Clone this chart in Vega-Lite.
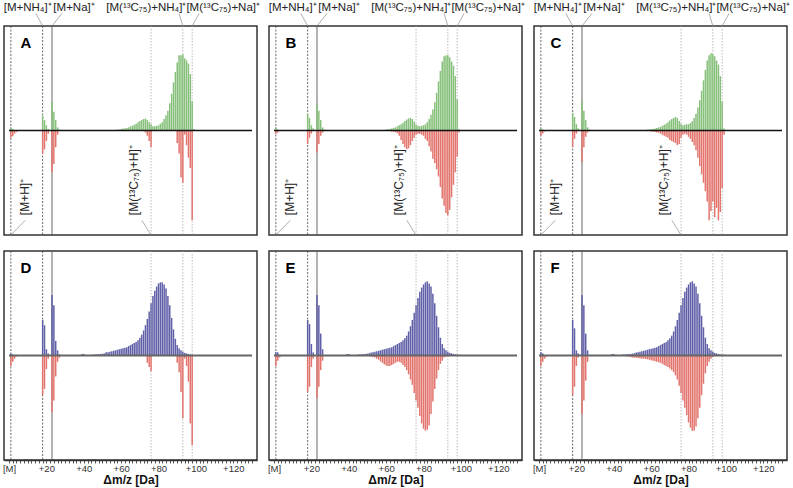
{
"$schema": "https://vega.github.io/schema/vega-lite/v6.json",
"padding": {"left": 1, "top": 0, "right": 0, "bottom": 0},
"background": "white",
"spacing": 12,
"config": {"view": {"stroke": "#333", "strokeWidth": 1.5}, "font": "Liberation Sans"},
"datasets": {
"vdash": [{"x":1},{"x":18}],
"vsolid": [{"x":23}],
"vlight": [{"x":76},{"x":93},{"x":98}],
"toplab": [{"x":10,"y":1.177,"t":"[M+NH₄]⁺"},{"x":34.8,"y":1.177,"t":"[M+Na]⁺"},{"x":73.5,"y":1.177,"t":"[M(¹³C₇₅)+NH₄]⁺"},{"x":114.6,"y":1.177,"t":"[M(¹³C₇₅)+Na]⁺"}],
"lead": [{"x":14.4,"y":1.12,"x2":18,"y2":1},{"x":28.3,"y":1.12,"x2":23,"y2":1},{"x":91,"y":1.12,"x2":93,"y2":1},{"x":101.7,"y":1.12,"x2":98,"y2":1},{"x":8.7,"y":-0.86,"x2":1,"y2":-1},{"x":71.1,"y":-0.86,"x2":76,"y2":-1}],
"rotlab": [{"x":8.7,"y":-0.81,"t":"[M+H]⁺"},{"x":66.8,"y":-0.81,"t":"[M(¹³C₇₅)+H]⁺"}],
"bars": [
{"p":"A","c":"g","x":1,"v":0.03},{"p":"A","c":"g","x":2,"v":0.015},{"p":"A","c":"g","x":18,"v":0.14},{"p":"A","c":"g","x":19,"v":0.10},{"p":"A","c":"g","x":20,"v":0.05},{"p":"A","c":"g","x":21,"v":0.015},{"p":"A","c":"g","x":23,"v":0.27},{"p":"A","c":"g","x":24,"v":0.18},{"p":"A","c":"g","x":25,"v":0.10},{"p":"A","c":"g","x":26,"v":0.03},{"p":"A","c":"g","x":27,"v":0.01},
{"p":"A","c":"g","x":58,"v":0.01},{"p":"A","c":"g","x":59,"v":0.01},{"p":"A","c":"g","x":60,"v":0.015},{"p":"A","c":"g","x":61,"v":0.02},{"p":"A","c":"g","x":62,"v":0.02},{"p":"A","c":"g","x":63,"v":0.025},{"p":"A","c":"g","x":64,"v":0.03},{"p":"A","c":"g","x":65,"v":0.04},{"p":"A","c":"g","x":66,"v":0.045},{"p":"A","c":"g","x":67,"v":0.055},{"p":"A","c":"g","x":68,"v":0.065},{"p":"A","c":"g","x":69,"v":0.08},{"p":"A","c":"g","x":70,"v":0.09},{"p":"A","c":"g","x":71,"v":0.10},{"p":"A","c":"g","x":72,"v":0.11},{"p":"A","c":"g","x":73,"v":0.115},{"p":"A","c":"g","x":74,"v":0.10},{"p":"A","c":"g","x":75,"v":0.08},{"p":"A","c":"g","x":76,"v":0.06},{"p":"A","c":"g","x":77,"v":0.04},{"p":"A","c":"g","x":78,"v":0.04},{"p":"A","c":"g","x":79,"v":0.045},{"p":"A","c":"g","x":80,"v":0.05},{"p":"A","c":"g","x":81,"v":0.065},{"p":"A","c":"g","x":82,"v":0.08},{"p":"A","c":"g","x":83,"v":0.11},{"p":"A","c":"g","x":84,"v":0.145},{"p":"A","c":"g","x":85,"v":0.19},{"p":"A","c":"g","x":86,"v":0.26},{"p":"A","c":"g","x":87,"v":0.35},{"p":"A","c":"g","x":88,"v":0.46},{"p":"A","c":"g","x":89,"v":0.56},{"p":"A","c":"g","x":90,"v":0.65},{"p":"A","c":"g","x":91,"v":0.72},{"p":"A","c":"g","x":92,"v":0.72},{"p":"A","c":"g","x":93,"v":0.73},{"p":"A","c":"g","x":94,"v":0.69},{"p":"A","c":"g","x":95,"v":0.67},{"p":"A","c":"g","x":96,"v":0.64},{"p":"A","c":"g","x":97,"v":0.54},{"p":"A","c":"g","x":98,"v":0.28},{"p":"A","c":"g","x":99,"v":0.015},{"p":"A","c":"g","x":100,"v":0.005},
{"p":"A","c":"r","x":1,"v":-0.07},{"p":"A","c":"r","x":2,"v":-0.055},{"p":"A","c":"r","x":3,"v":-0.03},{"p":"A","c":"r","x":4,"v":-0.015},{"p":"A","c":"r","x":18,"v":-0.22},{"p":"A","c":"r","x":19,"v":-0.18},{"p":"A","c":"r","x":20,"v":-0.10},{"p":"A","c":"r","x":21,"v":-0.03},{"p":"A","c":"r","x":23,"v":-0.40},{"p":"A","c":"r","x":24,"v":-0.32},{"p":"A","c":"r","x":25,"v":-0.16},{"p":"A","c":"r","x":26,"v":-0.04},{"p":"A","c":"r","x":73,"v":-0.02},{"p":"A","c":"r","x":74,"v":-0.05},{"p":"A","c":"r","x":75,"v":-0.10},{"p":"A","c":"r","x":76,"v":-0.16},{"p":"A","c":"r","x":90,"v":-0.12},{"p":"A","c":"r","x":91,"v":-0.22},{"p":"A","c":"r","x":92,"v":-0.45},{"p":"A","c":"r","x":93,"v":-0.50},{"p":"A","c":"r","x":94,"v":-0.04},{"p":"A","c":"r","x":95,"v":-0.14},{"p":"A","c":"r","x":96,"v":-0.26},{"p":"A","c":"r","x":97,"v":-0.36},{"p":"A","c":"r","x":98,"v":-0.86},
{"p":"B","c":"g","x":1,"v":0.03},{"p":"B","c":"g","x":2,"v":0.01},{"p":"B","c":"g","x":18,"v":0.16},{"p":"B","c":"g","x":19,"v":0.12},{"p":"B","c":"g","x":20,"v":0.05},{"p":"B","c":"g","x":21,"v":0.02},{"p":"B","c":"g","x":23,"v":0.26},{"p":"B","c":"g","x":24,"v":0.19},{"p":"B","c":"g","x":25,"v":0.10},{"p":"B","c":"g","x":26,"v":0.03},{"p":"B","c":"g","x":27,"v":0.01},
{"p":"B","c":"g","x":60,"v":0.01},{"p":"B","c":"g","x":61,"v":0.012},{"p":"B","c":"g","x":62,"v":0.015},{"p":"B","c":"g","x":63,"v":0.02},{"p":"B","c":"g","x":64,"v":0.025},{"p":"B","c":"g","x":65,"v":0.03},{"p":"B","c":"g","x":66,"v":0.04},{"p":"B","c":"g","x":67,"v":0.05},{"p":"B","c":"g","x":68,"v":0.06},{"p":"B","c":"g","x":69,"v":0.075},{"p":"B","c":"g","x":70,"v":0.09},{"p":"B","c":"g","x":71,"v":0.105},{"p":"B","c":"g","x":72,"v":0.115},{"p":"B","c":"g","x":73,"v":0.12},{"p":"B","c":"g","x":74,"v":0.11},{"p":"B","c":"g","x":75,"v":0.085},{"p":"B","c":"g","x":76,"v":0.06},{"p":"B","c":"g","x":77,"v":0.045},{"p":"B","c":"g","x":78,"v":0.04},{"p":"B","c":"g","x":79,"v":0.045},{"p":"B","c":"g","x":80,"v":0.05},{"p":"B","c":"g","x":81,"v":0.06},{"p":"B","c":"g","x":82,"v":0.08},{"p":"B","c":"g","x":83,"v":0.11},{"p":"B","c":"g","x":84,"v":0.15},{"p":"B","c":"g","x":85,"v":0.20},{"p":"B","c":"g","x":86,"v":0.27},{"p":"B","c":"g","x":87,"v":0.36},{"p":"B","c":"g","x":88,"v":0.47},{"p":"B","c":"g","x":89,"v":0.57},{"p":"B","c":"g","x":90,"v":0.66},{"p":"B","c":"g","x":91,"v":0.71},{"p":"B","c":"g","x":92,"v":0.72},{"p":"B","c":"g","x":93,"v":0.72},{"p":"B","c":"g","x":94,"v":0.70},{"p":"B","c":"g","x":95,"v":0.66},{"p":"B","c":"g","x":96,"v":0.62},{"p":"B","c":"g","x":97,"v":0.52},{"p":"B","c":"g","x":98,"v":0.30},{"p":"B","c":"g","x":99,"v":0.015},{"p":"B","c":"g","x":100,"v":0.005},
{"p":"B","c":"r","x":1,"v":-0.03},{"p":"B","c":"r","x":2,"v":-0.02},{"p":"B","c":"r","x":18,"v":-0.13},{"p":"B","c":"r","x":19,"v":-0.07},{"p":"B","c":"r","x":20,"v":-0.03},{"p":"B","c":"r","x":23,"v":-0.21},{"p":"B","c":"r","x":24,"v":-0.13},{"p":"B","c":"r","x":25,"v":-0.05},{"p":"B","c":"r","x":26,"v":-0.02},
{"p":"B","c":"r","x":62,"v":-0.005},{"p":"B","c":"r","x":63,"v":-0.01},{"p":"B","c":"r","x":64,"v":-0.012},{"p":"B","c":"r","x":65,"v":-0.015},{"p":"B","c":"r","x":66,"v":-0.025},{"p":"B","c":"r","x":67,"v":-0.05},{"p":"B","c":"r","x":68,"v":-0.09},{"p":"B","c":"r","x":69,"v":-0.13},{"p":"B","c":"r","x":70,"v":-0.16},{"p":"B","c":"r","x":71,"v":-0.18},{"p":"B","c":"r","x":72,"v":-0.17},{"p":"B","c":"r","x":73,"v":-0.14},{"p":"B","c":"r","x":74,"v":-0.10},{"p":"B","c":"r","x":75,"v":-0.07},{"p":"B","c":"r","x":76,"v":-0.04},{"p":"B","c":"r","x":77,"v":-0.03},{"p":"B","c":"r","x":78,"v":-0.03},{"p":"B","c":"r","x":79,"v":-0.04},{"p":"B","c":"r","x":80,"v":-0.05},{"p":"B","c":"r","x":81,"v":-0.08},{"p":"B","c":"r","x":82,"v":-0.10},{"p":"B","c":"r","x":83,"v":-0.15},{"p":"B","c":"r","x":84,"v":-0.20},{"p":"B","c":"r","x":85,"v":-0.27},{"p":"B","c":"r","x":86,"v":-0.31},{"p":"B","c":"r","x":87,"v":-0.37},{"p":"B","c":"r","x":88,"v":-0.44},{"p":"B","c":"r","x":89,"v":-0.54},{"p":"B","c":"r","x":90,"v":-0.65},{"p":"B","c":"r","x":91,"v":-0.72},{"p":"B","c":"r","x":92,"v":-0.79},{"p":"B","c":"r","x":93,"v":-0.81},{"p":"B","c":"r","x":94,"v":-0.76},{"p":"B","c":"r","x":95,"v":-0.64},{"p":"B","c":"r","x":96,"v":-0.52},{"p":"B","c":"r","x":97,"v":-0.40},{"p":"B","c":"r","x":98,"v":-0.25},{"p":"B","c":"r","x":99,"v":-0.02},
{"p":"C","c":"g","x":1,"v":0.03},{"p":"C","c":"g","x":2,"v":0.01},{"p":"C","c":"g","x":18,"v":0.17},{"p":"C","c":"g","x":19,"v":0.13},{"p":"C","c":"g","x":20,"v":0.06},{"p":"C","c":"g","x":21,"v":0.02},{"p":"C","c":"g","x":23,"v":0.29},{"p":"C","c":"g","x":24,"v":0.19},{"p":"C","c":"g","x":25,"v":0.10},{"p":"C","c":"g","x":26,"v":0.03},{"p":"C","c":"g","x":27,"v":0.01},
{"p":"C","c":"g","x":58,"v":0.008},{"p":"C","c":"g","x":59,"v":0.01},{"p":"C","c":"g","x":60,"v":0.012},{"p":"C","c":"g","x":61,"v":0.015},{"p":"C","c":"g","x":62,"v":0.02},{"p":"C","c":"g","x":63,"v":0.025},{"p":"C","c":"g","x":64,"v":0.03},{"p":"C","c":"g","x":65,"v":0.035},{"p":"C","c":"g","x":66,"v":0.045},{"p":"C","c":"g","x":67,"v":0.055},{"p":"C","c":"g","x":68,"v":0.065},{"p":"C","c":"g","x":69,"v":0.08},{"p":"C","c":"g","x":70,"v":0.095},{"p":"C","c":"g","x":71,"v":0.11},{"p":"C","c":"g","x":72,"v":0.12},{"p":"C","c":"g","x":73,"v":0.13},{"p":"C","c":"g","x":74,"v":0.12},{"p":"C","c":"g","x":75,"v":0.09},{"p":"C","c":"g","x":76,"v":0.065},{"p":"C","c":"g","x":77,"v":0.05},{"p":"C","c":"g","x":78,"v":0.055},{"p":"C","c":"g","x":79,"v":0.06},{"p":"C","c":"g","x":80,"v":0.06},{"p":"C","c":"g","x":81,"v":0.07},{"p":"C","c":"g","x":82,"v":0.09},{"p":"C","c":"g","x":83,"v":0.12},{"p":"C","c":"g","x":84,"v":0.16},{"p":"C","c":"g","x":85,"v":0.22},{"p":"C","c":"g","x":86,"v":0.29},{"p":"C","c":"g","x":87,"v":0.38},{"p":"C","c":"g","x":88,"v":0.48},{"p":"C","c":"g","x":89,"v":0.58},{"p":"C","c":"g","x":90,"v":0.67},{"p":"C","c":"g","x":91,"v":0.72},{"p":"C","c":"g","x":92,"v":0.74},{"p":"C","c":"g","x":93,"v":0.73},{"p":"C","c":"g","x":94,"v":0.71},{"p":"C","c":"g","x":95,"v":0.67},{"p":"C","c":"g","x":96,"v":0.63},{"p":"C","c":"g","x":97,"v":0.52},{"p":"C","c":"g","x":98,"v":0.28},{"p":"C","c":"g","x":99,"v":0.02},{"p":"C","c":"g","x":100,"v":0.005},
{"p":"C","c":"r","x":1,"v":-0.05},{"p":"C","c":"r","x":2,"v":-0.03},{"p":"C","c":"r","x":3,"v":-0.01},{"p":"C","c":"r","x":18,"v":-0.16},{"p":"C","c":"r","x":19,"v":-0.08},{"p":"C","c":"r","x":20,"v":-0.03},{"p":"C","c":"r","x":23,"v":-0.30},{"p":"C","c":"r","x":24,"v":-0.16},{"p":"C","c":"r","x":25,"v":-0.06},{"p":"C","c":"r","x":26,"v":-0.02},
{"p":"C","c":"r","x":60,"v":-0.01},{"p":"C","c":"r","x":61,"v":-0.01},{"p":"C","c":"r","x":62,"v":-0.015},{"p":"C","c":"r","x":63,"v":-0.02},{"p":"C","c":"r","x":64,"v":-0.02},{"p":"C","c":"r","x":65,"v":-0.03},{"p":"C","c":"r","x":66,"v":-0.04},{"p":"C","c":"r","x":67,"v":-0.05},{"p":"C","c":"r","x":68,"v":-0.06},{"p":"C","c":"r","x":69,"v":-0.07},{"p":"C","c":"r","x":70,"v":-0.09},{"p":"C","c":"r","x":71,"v":-0.10},{"p":"C","c":"r","x":72,"v":-0.11},{"p":"C","c":"r","x":73,"v":-0.12},{"p":"C","c":"r","x":74,"v":-0.14},{"p":"C","c":"r","x":75,"v":-0.13},{"p":"C","c":"r","x":76,"v":-0.07},{"p":"C","c":"r","x":77,"v":-0.04},{"p":"C","c":"r","x":78,"v":-0.03},{"p":"C","c":"r","x":79,"v":-0.04},{"p":"C","c":"r","x":80,"v":-0.06},{"p":"C","c":"r","x":81,"v":-0.08},{"p":"C","c":"r","x":82,"v":-0.11},{"p":"C","c":"r","x":83,"v":-0.14},{"p":"C","c":"r","x":84,"v":-0.19},{"p":"C","c":"r","x":85,"v":-0.26},{"p":"C","c":"r","x":86,"v":-0.34},{"p":"C","c":"r","x":87,"v":-0.42},{"p":"C","c":"r","x":88,"v":-0.50},{"p":"C","c":"r","x":89,"v":-0.58},{"p":"C","c":"r","x":90,"v":-0.68},{"p":"C","c":"r","x":91,"v":-0.86},{"p":"C","c":"r","x":92,"v":-0.77},{"p":"C","c":"r","x":93,"v":-0.68},{"p":"C","c":"r","x":94,"v":-0.83},{"p":"C","c":"r","x":95,"v":-0.74},{"p":"C","c":"r","x":96,"v":-0.86},{"p":"C","c":"r","x":97,"v":-0.78},{"p":"C","c":"r","x":98,"v":-0.55},{"p":"C","c":"r","x":99,"v":-0.04},
{"p":"D","c":"b","x":1,"v":0.02},{"p":"D","c":"b","x":2,"v":0.01},{"p":"D","c":"b","x":18,"v":0.34},{"p":"D","c":"b","x":19,"v":0.29},{"p":"D","c":"b","x":20,"v":0.06},{"p":"D","c":"b","x":21,"v":0.02},{"p":"D","c":"b","x":23,"v":0.58},{"p":"D","c":"b","x":24,"v":0.48},{"p":"D","c":"b","x":25,"v":0.14},{"p":"D","c":"b","x":26,"v":0.05},{"p":"D","c":"b","x":27,"v":0.01},{"p":"D","c":"b","x":39,"v":0.015},{"p":"D","c":"b","x":40,"v":0.015},
{"p":"D","c":"b","x":44,"v":0.005},{"p":"D","c":"b","x":45,"v":0.01},{"p":"D","c":"b","x":46,"v":0.01},{"p":"D","c":"b","x":47,"v":0.012},{"p":"D","c":"b","x":48,"v":0.012},{"p":"D","c":"b","x":49,"v":0.015},{"p":"D","c":"b","x":50,"v":0.017},{"p":"D","c":"b","x":51,"v":0.02},{"p":"D","c":"b","x":52,"v":0.03},{"p":"D","c":"b","x":53,"v":0.032},{"p":"D","c":"b","x":54,"v":0.035},{"p":"D","c":"b","x":55,"v":0.04},{"p":"D","c":"b","x":56,"v":0.045},{"p":"D","c":"b","x":57,"v":0.05},{"p":"D","c":"b","x":58,"v":0.055},{"p":"D","c":"b","x":59,"v":0.06},{"p":"D","c":"b","x":60,"v":0.065},{"p":"D","c":"b","x":61,"v":0.07},{"p":"D","c":"b","x":62,"v":0.075},{"p":"D","c":"b","x":63,"v":0.08},{"p":"D","c":"b","x":64,"v":0.09},{"p":"D","c":"b","x":65,"v":0.10},{"p":"D","c":"b","x":66,"v":0.11},{"p":"D","c":"b","x":67,"v":0.12},{"p":"D","c":"b","x":68,"v":0.13},{"p":"D","c":"b","x":69,"v":0.145},{"p":"D","c":"b","x":70,"v":0.17},{"p":"D","c":"b","x":71,"v":0.20},{"p":"D","c":"b","x":72,"v":0.24},{"p":"D","c":"b","x":73,"v":0.29},{"p":"D","c":"b","x":74,"v":0.35},{"p":"D","c":"b","x":75,"v":0.42},{"p":"D","c":"b","x":76,"v":0.50},{"p":"D","c":"b","x":77,"v":0.57},{"p":"D","c":"b","x":78,"v":0.62},{"p":"D","c":"b","x":79,"v":0.66},{"p":"D","c":"b","x":80,"v":0.69},{"p":"D","c":"b","x":81,"v":0.70},{"p":"D","c":"b","x":82,"v":0.70},{"p":"D","c":"b","x":83,"v":0.68},{"p":"D","c":"b","x":84,"v":0.64},{"p":"D","c":"b","x":85,"v":0.57},{"p":"D","c":"b","x":86,"v":0.48},{"p":"D","c":"b","x":87,"v":0.36},{"p":"D","c":"b","x":88,"v":0.25},{"p":"D","c":"b","x":89,"v":0.16},{"p":"D","c":"b","x":90,"v":0.10},{"p":"D","c":"b","x":91,"v":0.07},{"p":"D","c":"b","x":92,"v":0.05},{"p":"D","c":"b","x":93,"v":0.035},{"p":"D","c":"b","x":94,"v":0.025},{"p":"D","c":"b","x":95,"v":0.02},{"p":"D","c":"b","x":96,"v":0.015},{"p":"D","c":"b","x":97,"v":0.01},{"p":"D","c":"b","x":98,"v":0.008},{"p":"D","c":"b","x":99,"v":0.005},{"p":"D","c":"b","x":100,"v":0.004},{"p":"D","c":"b","x":101,"v":0.003},
{"p":"D","c":"r","x":1,"v":-0.10},{"p":"D","c":"r","x":2,"v":-0.06},{"p":"D","c":"r","x":3,"v":-0.03},{"p":"D","c":"r","x":4,"v":-0.01},{"p":"D","c":"r","x":18,"v":-0.38},{"p":"D","c":"r","x":19,"v":-0.32},{"p":"D","c":"r","x":20,"v":-0.13},{"p":"D","c":"r","x":21,"v":-0.03},{"p":"D","c":"r","x":23,"v":-0.54},{"p":"D","c":"r","x":24,"v":-0.43},{"p":"D","c":"r","x":25,"v":-0.20},{"p":"D","c":"r","x":26,"v":-0.06},{"p":"D","c":"r","x":27,"v":-0.02},{"p":"D","c":"r","x":74,"v":-0.07},{"p":"D","c":"r","x":75,"v":-0.11},{"p":"D","c":"r","x":76,"v":-0.15},{"p":"D","c":"r","x":90,"v":-0.07},{"p":"D","c":"r","x":91,"v":-0.16},{"p":"D","c":"r","x":92,"v":-0.35},{"p":"D","c":"r","x":93,"v":-0.60},{"p":"D","c":"r","x":94,"v":-0.03},{"p":"D","c":"r","x":95,"v":-0.10},{"p":"D","c":"r","x":96,"v":-0.25},{"p":"D","c":"r","x":97,"v":-0.65},{"p":"D","c":"r","x":98,"v":-0.86},
{"p":"E","c":"b","x":1,"v":0.03},{"p":"E","c":"b","x":2,"v":0.03},{"p":"E","c":"b","x":18,"v":0.34},{"p":"E","c":"b","x":19,"v":0.30},{"p":"E","c":"b","x":20,"v":0.11},{"p":"E","c":"b","x":21,"v":0.03},{"p":"E","c":"b","x":23,"v":0.58},{"p":"E","c":"b","x":24,"v":0.48},{"p":"E","c":"b","x":25,"v":0.21},{"p":"E","c":"b","x":26,"v":0.06},{"p":"E","c":"b","x":39,"v":0.015},{"p":"E","c":"b","x":40,"v":0.015},
{"p":"E","c":"b","x":45,"v":0.01},{"p":"E","c":"b","x":46,"v":0.01},{"p":"E","c":"b","x":47,"v":0.012},{"p":"E","c":"b","x":48,"v":0.013},{"p":"E","c":"b","x":49,"v":0.015},{"p":"E","c":"b","x":50,"v":0.018},{"p":"E","c":"b","x":51,"v":0.022},{"p":"E","c":"b","x":52,"v":0.028},{"p":"E","c":"b","x":53,"v":0.032},{"p":"E","c":"b","x":54,"v":0.036},{"p":"E","c":"b","x":55,"v":0.04},{"p":"E","c":"b","x":56,"v":0.045},{"p":"E","c":"b","x":57,"v":0.05},{"p":"E","c":"b","x":58,"v":0.055},{"p":"E","c":"b","x":59,"v":0.06},{"p":"E","c":"b","x":60,"v":0.065},{"p":"E","c":"b","x":61,"v":0.07},{"p":"E","c":"b","x":62,"v":0.075},{"p":"E","c":"b","x":63,"v":0.08},{"p":"E","c":"b","x":64,"v":0.09},{"p":"E","c":"b","x":65,"v":0.10},{"p":"E","c":"b","x":66,"v":0.11},{"p":"E","c":"b","x":67,"v":0.12},{"p":"E","c":"b","x":68,"v":0.13},{"p":"E","c":"b","x":69,"v":0.145},{"p":"E","c":"b","x":70,"v":0.165},{"p":"E","c":"b","x":71,"v":0.19},{"p":"E","c":"b","x":72,"v":0.23},{"p":"E","c":"b","x":73,"v":0.28},{"p":"E","c":"b","x":74,"v":0.34},{"p":"E","c":"b","x":75,"v":0.41},{"p":"E","c":"b","x":76,"v":0.48},{"p":"E","c":"b","x":77,"v":0.55},{"p":"E","c":"b","x":78,"v":0.61},{"p":"E","c":"b","x":79,"v":0.65},{"p":"E","c":"b","x":80,"v":0.68},{"p":"E","c":"b","x":81,"v":0.70},{"p":"E","c":"b","x":82,"v":0.71},{"p":"E","c":"b","x":83,"v":0.69},{"p":"E","c":"b","x":84,"v":0.66},{"p":"E","c":"b","x":85,"v":0.59},{"p":"E","c":"b","x":86,"v":0.50},{"p":"E","c":"b","x":87,"v":0.38},{"p":"E","c":"b","x":88,"v":0.27},{"p":"E","c":"b","x":89,"v":0.17},{"p":"E","c":"b","x":90,"v":0.11},{"p":"E","c":"b","x":91,"v":0.07},{"p":"E","c":"b","x":92,"v":0.05},{"p":"E","c":"b","x":93,"v":0.035},{"p":"E","c":"b","x":94,"v":0.025},{"p":"E","c":"b","x":95,"v":0.02},{"p":"E","c":"b","x":96,"v":0.015},{"p":"E","c":"b","x":97,"v":0.01},{"p":"E","c":"b","x":98,"v":0.008},{"p":"E","c":"b","x":99,"v":0.006},{"p":"E","c":"b","x":100,"v":0.004},{"p":"E","c":"b","x":101,"v":0.003},
{"p":"E","c":"r","x":1,"v":-0.10},{"p":"E","c":"r","x":2,"v":-0.05},{"p":"E","c":"r","x":3,"v":-0.02},{"p":"E","c":"r","x":18,"v":-0.35},{"p":"E","c":"r","x":19,"v":-0.30},{"p":"E","c":"r","x":20,"v":-0.11},{"p":"E","c":"r","x":21,"v":-0.03},{"p":"E","c":"r","x":23,"v":-0.41},{"p":"E","c":"r","x":24,"v":-0.30},{"p":"E","c":"r","x":25,"v":-0.14},{"p":"E","c":"r","x":26,"v":-0.05},
{"p":"E","c":"r","x":52,"v":-0.01},{"p":"E","c":"r","x":53,"v":-0.015},{"p":"E","c":"r","x":54,"v":-0.02},{"p":"E","c":"r","x":55,"v":-0.03},{"p":"E","c":"r","x":56,"v":-0.04},{"p":"E","c":"r","x":57,"v":-0.055},{"p":"E","c":"r","x":58,"v":-0.07},{"p":"E","c":"r","x":59,"v":-0.085},{"p":"E","c":"r","x":60,"v":-0.095},{"p":"E","c":"r","x":61,"v":-0.10},{"p":"E","c":"r","x":62,"v":-0.10},{"p":"E","c":"r","x":63,"v":-0.09},{"p":"E","c":"r","x":64,"v":-0.08},{"p":"E","c":"r","x":65,"v":-0.07},{"p":"E","c":"r","x":66,"v":-0.06},{"p":"E","c":"r","x":67,"v":-0.06},{"p":"E","c":"r","x":68,"v":-0.07},{"p":"E","c":"r","x":69,"v":-0.09},{"p":"E","c":"r","x":70,"v":-0.11},{"p":"E","c":"r","x":71,"v":-0.14},{"p":"E","c":"r","x":72,"v":-0.18},{"p":"E","c":"r","x":73,"v":-0.23},{"p":"E","c":"r","x":74,"v":-0.28},{"p":"E","c":"r","x":75,"v":-0.36},{"p":"E","c":"r","x":76,"v":-0.43},{"p":"E","c":"r","x":77,"v":-0.50},{"p":"E","c":"r","x":78,"v":-0.58},{"p":"E","c":"r","x":79,"v":-0.65},{"p":"E","c":"r","x":80,"v":-0.70},{"p":"E","c":"r","x":81,"v":-0.72},{"p":"E","c":"r","x":82,"v":-0.71},{"p":"E","c":"r","x":83,"v":-0.67},{"p":"E","c":"r","x":84,"v":-0.56},{"p":"E","c":"r","x":85,"v":-0.44},{"p":"E","c":"r","x":86,"v":-0.32},{"p":"E","c":"r","x":87,"v":-0.22},{"p":"E","c":"r","x":88,"v":-0.14},{"p":"E","c":"r","x":89,"v":-0.08},{"p":"E","c":"r","x":90,"v":-0.05},{"p":"E","c":"r","x":91,"v":-0.02},{"p":"E","c":"r","x":92,"v":-0.01},
{"p":"F","c":"b","x":1,"v":0.03},{"p":"F","c":"b","x":2,"v":0.02},{"p":"F","c":"b","x":18,"v":0.34},{"p":"F","c":"b","x":19,"v":0.26},{"p":"F","c":"b","x":20,"v":0.05},{"p":"F","c":"b","x":21,"v":0.02},{"p":"F","c":"b","x":23,"v":0.58},{"p":"F","c":"b","x":24,"v":0.48},{"p":"F","c":"b","x":25,"v":0.21},{"p":"F","c":"b","x":26,"v":0.05},{"p":"F","c":"b","x":39,"v":0.015},{"p":"F","c":"b","x":40,"v":0.015},
{"p":"F","c":"b","x":45,"v":0.01},{"p":"F","c":"b","x":46,"v":0.01},{"p":"F","c":"b","x":47,"v":0.012},{"p":"F","c":"b","x":48,"v":0.013},{"p":"F","c":"b","x":49,"v":0.015},{"p":"F","c":"b","x":50,"v":0.018},{"p":"F","c":"b","x":51,"v":0.022},{"p":"F","c":"b","x":52,"v":0.028},{"p":"F","c":"b","x":53,"v":0.032},{"p":"F","c":"b","x":54,"v":0.036},{"p":"F","c":"b","x":55,"v":0.04},{"p":"F","c":"b","x":56,"v":0.045},{"p":"F","c":"b","x":57,"v":0.05},{"p":"F","c":"b","x":58,"v":0.055},{"p":"F","c":"b","x":59,"v":0.06},{"p":"F","c":"b","x":60,"v":0.065},{"p":"F","c":"b","x":61,"v":0.07},{"p":"F","c":"b","x":62,"v":0.075},{"p":"F","c":"b","x":63,"v":0.08},{"p":"F","c":"b","x":64,"v":0.09},{"p":"F","c":"b","x":65,"v":0.10},{"p":"F","c":"b","x":66,"v":0.11},{"p":"F","c":"b","x":67,"v":0.12},{"p":"F","c":"b","x":68,"v":0.13},{"p":"F","c":"b","x":69,"v":0.145},{"p":"F","c":"b","x":70,"v":0.165},{"p":"F","c":"b","x":71,"v":0.19},{"p":"F","c":"b","x":72,"v":0.23},{"p":"F","c":"b","x":73,"v":0.28},{"p":"F","c":"b","x":74,"v":0.34},{"p":"F","c":"b","x":75,"v":0.41},{"p":"F","c":"b","x":76,"v":0.48},{"p":"F","c":"b","x":77,"v":0.55},{"p":"F","c":"b","x":78,"v":0.61},{"p":"F","c":"b","x":79,"v":0.65},{"p":"F","c":"b","x":80,"v":0.68},{"p":"F","c":"b","x":81,"v":0.70},{"p":"F","c":"b","x":82,"v":0.71},{"p":"F","c":"b","x":83,"v":0.69},{"p":"F","c":"b","x":84,"v":0.66},{"p":"F","c":"b","x":85,"v":0.59},{"p":"F","c":"b","x":86,"v":0.50},{"p":"F","c":"b","x":87,"v":0.38},{"p":"F","c":"b","x":88,"v":0.27},{"p":"F","c":"b","x":89,"v":0.17},{"p":"F","c":"b","x":90,"v":0.11},{"p":"F","c":"b","x":91,"v":0.07},{"p":"F","c":"b","x":92,"v":0.05},{"p":"F","c":"b","x":93,"v":0.035},{"p":"F","c":"b","x":94,"v":0.025},{"p":"F","c":"b","x":95,"v":0.02},{"p":"F","c":"b","x":96,"v":0.015},{"p":"F","c":"b","x":97,"v":0.01},{"p":"F","c":"b","x":98,"v":0.008},{"p":"F","c":"b","x":99,"v":0.006},{"p":"F","c":"b","x":100,"v":0.004},{"p":"F","c":"b","x":101,"v":0.003},
{"p":"F","c":"r","x":1,"v":-0.10},{"p":"F","c":"r","x":2,"v":-0.06},{"p":"F","c":"r","x":3,"v":-0.03},{"p":"F","c":"r","x":4,"v":-0.01},{"p":"F","c":"r","x":18,"v":-0.38},{"p":"F","c":"r","x":19,"v":-0.30},{"p":"F","c":"r","x":20,"v":-0.10},{"p":"F","c":"r","x":21,"v":-0.02},{"p":"F","c":"r","x":23,"v":-0.56},{"p":"F","c":"r","x":24,"v":-0.43},{"p":"F","c":"r","x":25,"v":-0.24},{"p":"F","c":"r","x":26,"v":-0.06},
{"p":"F","c":"r","x":46,"v":-0.005},{"p":"F","c":"r","x":47,"v":-0.01},{"p":"F","c":"r","x":48,"v":-0.01},{"p":"F","c":"r","x":49,"v":-0.015},{"p":"F","c":"r","x":50,"v":-0.02},{"p":"F","c":"r","x":51,"v":-0.02},{"p":"F","c":"r","x":52,"v":-0.022},{"p":"F","c":"r","x":53,"v":-0.025},{"p":"F","c":"r","x":54,"v":-0.027},{"p":"F","c":"r","x":55,"v":-0.03},{"p":"F","c":"r","x":56,"v":-0.03},{"p":"F","c":"r","x":57,"v":-0.033},{"p":"F","c":"r","x":58,"v":-0.037},{"p":"F","c":"r","x":59,"v":-0.04},{"p":"F","c":"r","x":60,"v":-0.045},{"p":"F","c":"r","x":61,"v":-0.05},{"p":"F","c":"r","x":62,"v":-0.055},{"p":"F","c":"r","x":63,"v":-0.06},{"p":"F","c":"r","x":64,"v":-0.065},{"p":"F","c":"r","x":65,"v":-0.07},{"p":"F","c":"r","x":66,"v":-0.08},{"p":"F","c":"r","x":67,"v":-0.09},{"p":"F","c":"r","x":68,"v":-0.10},{"p":"F","c":"r","x":69,"v":-0.11},{"p":"F","c":"r","x":70,"v":-0.125},{"p":"F","c":"r","x":71,"v":-0.14},{"p":"F","c":"r","x":72,"v":-0.16},{"p":"F","c":"r","x":73,"v":-0.19},{"p":"F","c":"r","x":74,"v":-0.23},{"p":"F","c":"r","x":75,"v":-0.29},{"p":"F","c":"r","x":76,"v":-0.36},{"p":"F","c":"r","x":77,"v":-0.43},{"p":"F","c":"r","x":78,"v":-0.50},{"p":"F","c":"r","x":79,"v":-0.57},{"p":"F","c":"r","x":80,"v":-0.64},{"p":"F","c":"r","x":81,"v":-0.69},{"p":"F","c":"r","x":82,"v":-0.72},{"p":"F","c":"r","x":83,"v":-0.72},{"p":"F","c":"r","x":84,"v":-0.68},{"p":"F","c":"r","x":85,"v":-0.60},{"p":"F","c":"r","x":86,"v":-0.50},{"p":"F","c":"r","x":87,"v":-0.38},{"p":"F","c":"r","x":88,"v":-0.27},{"p":"F","c":"r","x":89,"v":-0.17},{"p":"F","c":"r","x":90,"v":-0.10},{"p":"F","c":"r","x":91,"v":-0.06},{"p":"F","c":"r","x":92,"v":-0.03},{"p":"F","c":"r","x":93,"v":-0.015}
]
},
"vconcat": [
{"hconcat": [
{"width":253,"height":209,
 "encoding":{"x":{"field":"x","type":"quantitative","scale":{"domain":[0,130],"nice":false,"zero":false},"axis":null}},
 "layer":[
  {"data":{"name":"vlight"},"mark":{"type":"rule","color":"#aaa","strokeWidth":0.8,"strokeDash":[1.5,1.5]},"encoding":{}},
  {"data":{"name":"vdash"},"mark":{"type":"rule","color":"#444","strokeWidth":0.8,"strokeDash":[2,1.5]},"encoding":{}},
  {"data":{"name":"vsolid"},"mark":{"type":"rule","color":"#555","strokeWidth":0.9},"encoding":{}},
  {"data":{"name":"bars"},"transform":[{"filter":"datum.p=='A'"}],"mark":{"type":"bar","size":1.5},"encoding":{"y":{"field":"v","type":"quantitative","scale":{"domain":[-1,1],"nice":false,"zero":false},"axis":null},"y2":{"datum":0},"color":{"field":"c","type":"nominal","scale":{"domain":["g","r","b"],"range":["#86c07a","#e3756e","#6060a8"]},"legend":null}}},
  {"data":{"values":[{"x":0}]},"mark":{"type":"rule","color":"#111","strokeWidth":1.5},"encoding":{"x2":{"datum":130},"y":{"datum":0}}},
  {"data":{"name":"lead"},"mark":{"type":"rule","color":"#777","strokeWidth":0.6},"encoding":{"x2":{"field":"x2"},"y":{"field":"y","type":"quantitative"},"y2":{"field":"y2"}}},
  {"data":{"name":"toplab"},"mark":{"type":"text","fontSize":11.5,"color":"#222","baseline":"middle"},"encoding":{"y":{"field":"y","type":"quantitative"},"text":{"field":"t"}}},
  {"data":{"name":"rotlab"},"mark":{"type":"text","fontSize":12,"color":"#222","angle":270,"align":"left","baseline":"middle"},"encoding":{"y":{"field":"y","type":"quantitative"},"text":{"field":"t"}}},
  {"data":{"values":[{"x":6.2}]},"mark":{"type":"text","text":"A","fontSize":15,"fontWeight":"bold","align":"left","baseline":"middle","color":"#000"},"encoding":{"y":{"datum":0.837}}}
 ]},
{"width":253,"height":209,
 "encoding":{"x":{"field":"x","type":"quantitative","scale":{"domain":[0,130],"nice":false,"zero":false},"axis":null}},
 "layer":[
  {"data":{"name":"vlight"},"mark":{"type":"rule","color":"#aaa","strokeWidth":0.8,"strokeDash":[1.5,1.5]},"encoding":{}},
  {"data":{"name":"vdash"},"mark":{"type":"rule","color":"#444","strokeWidth":0.8,"strokeDash":[2,1.5]},"encoding":{}},
  {"data":{"name":"vsolid"},"mark":{"type":"rule","color":"#555","strokeWidth":0.9},"encoding":{}},
  {"data":{"name":"bars"},"transform":[{"filter":"datum.p=='B'"}],"mark":{"type":"bar","size":1.5},"encoding":{"y":{"field":"v","type":"quantitative","scale":{"domain":[-1,1],"nice":false,"zero":false},"axis":null},"y2":{"datum":0},"color":{"field":"c","type":"nominal","scale":{"domain":["g","r","b"],"range":["#86c07a","#e3756e","#6060a8"]},"legend":null}}},
  {"data":{"values":[{"x":0}]},"mark":{"type":"rule","color":"#111","strokeWidth":1.5},"encoding":{"x2":{"datum":130},"y":{"datum":0}}},
  {"data":{"name":"lead"},"mark":{"type":"rule","color":"#777","strokeWidth":0.6},"encoding":{"x2":{"field":"x2"},"y":{"field":"y","type":"quantitative"},"y2":{"field":"y2"}}},
  {"data":{"name":"toplab"},"mark":{"type":"text","fontSize":11.5,"color":"#222","baseline":"middle"},"encoding":{"y":{"field":"y","type":"quantitative"},"text":{"field":"t"}}},
  {"data":{"name":"rotlab"},"mark":{"type":"text","fontSize":12,"color":"#222","angle":270,"align":"left","baseline":"middle"},"encoding":{"y":{"field":"y","type":"quantitative"},"text":{"field":"t"}}},
  {"data":{"values":[{"x":6.2}]},"mark":{"type":"text","text":"B","fontSize":15,"fontWeight":"bold","align":"left","baseline":"middle","color":"#000"},"encoding":{"y":{"datum":0.837}}}
 ]},
{"width":253,"height":209,
 "encoding":{"x":{"field":"x","type":"quantitative","scale":{"domain":[0,130],"nice":false,"zero":false},"axis":null}},
 "layer":[
  {"data":{"name":"vlight"},"mark":{"type":"rule","color":"#aaa","strokeWidth":0.8,"strokeDash":[1.5,1.5]},"encoding":{}},
  {"data":{"name":"vdash"},"mark":{"type":"rule","color":"#444","strokeWidth":0.8,"strokeDash":[2,1.5]},"encoding":{}},
  {"data":{"name":"vsolid"},"mark":{"type":"rule","color":"#555","strokeWidth":0.9},"encoding":{}},
  {"data":{"name":"bars"},"transform":[{"filter":"datum.p=='C'"}],"mark":{"type":"bar","size":1.5},"encoding":{"y":{"field":"v","type":"quantitative","scale":{"domain":[-1,1],"nice":false,"zero":false},"axis":null},"y2":{"datum":0},"color":{"field":"c","type":"nominal","scale":{"domain":["g","r","b"],"range":["#86c07a","#e3756e","#6060a8"]},"legend":null}}},
  {"data":{"values":[{"x":0}]},"mark":{"type":"rule","color":"#111","strokeWidth":1.5},"encoding":{"x2":{"datum":130},"y":{"datum":0}}},
  {"data":{"name":"lead"},"mark":{"type":"rule","color":"#777","strokeWidth":0.6},"encoding":{"x2":{"field":"x2"},"y":{"field":"y","type":"quantitative"},"y2":{"field":"y2"}}},
  {"data":{"name":"toplab"},"mark":{"type":"text","fontSize":11.5,"color":"#222","baseline":"middle"},"encoding":{"y":{"field":"y","type":"quantitative"},"text":{"field":"t"}}},
  {"data":{"name":"rotlab"},"mark":{"type":"text","fontSize":12,"color":"#222","angle":270,"align":"left","baseline":"middle"},"encoding":{"y":{"field":"y","type":"quantitative"},"text":{"field":"t"}}},
  {"data":{"values":[{"x":6.2}]},"mark":{"type":"text","text":"C","fontSize":15,"fontWeight":"bold","align":"left","baseline":"middle","color":"#000"},"encoding":{"y":{"datum":0.837}}}
 ]}
], "spacing": 12, "bounds": "flush"},
{"hconcat": [
{"width":253,"height":209,
 "encoding":{"x":{"field":"x","type":"quantitative","scale":{"domain":[0,130],"nice":false,"zero":false},"axis":{"values":[0,2,4,6,8,10,12,14,16,18,20,22,24,26,28,30,32,34,36,38,40,42,44,46,48,50,52,54,56,58,60,62,64,66,68,70,72,74,76,78,80,82,84,86,88,90,92,94,96,98,100,102,104,106,108,110,112,114,116,118,120,122,124,126,128,130],"labelExpr":"datum.value % 20 == 0 ? (datum.value == 0 ? '[M]' : '+' + datum.value) : ''","labelOverlap":false,"labelFlush":false,"tickSize":3,"tickColor":"#555","domainColor":"#333","domainWidth":1.5,"labelFontSize":9.5,"labelColor":"#333","labelPadding":0,"grid":false,"title":"Δm/z [Da]","titleFontSize":12,"titleFontWeight":"bold","titleColor":"#111","titlePadding":2}}},
 "layer":[
  {"data":{"name":"vlight"},"mark":{"type":"rule","color":"#aaa","strokeWidth":0.8,"strokeDash":[1.5,1.5]},"encoding":{}},
  {"data":{"name":"vdash"},"mark":{"type":"rule","color":"#444","strokeWidth":0.8,"strokeDash":[2,1.5]},"encoding":{}},
  {"data":{"name":"vsolid"},"mark":{"type":"rule","color":"#555","strokeWidth":0.9},"encoding":{}},
  {"data":{"name":"bars"},"transform":[{"filter":"datum.p=='D'"}],"mark":{"type":"bar","size":1.5},"encoding":{"y":{"field":"v","type":"quantitative","scale":{"domain":[-1,1],"nice":false,"zero":false},"axis":null},"y2":{"datum":0},"color":{"field":"c","type":"nominal","scale":{"domain":["g","r","b"],"range":["#86c07a","#e3756e","#6060a8"]},"legend":null}}},
  {"data":{"values":[{"x":0}]},"mark":{"type":"rule","color":"#666","strokeWidth":2},"encoding":{"x2":{"datum":130},"y":{"datum":0}}},
  {"data":{"values":[{"x":6.2}]},"mark":{"type":"text","text":"D","fontSize":15,"fontWeight":"bold","align":"left","baseline":"middle","color":"#000"},"encoding":{"y":{"datum":0.837}}}
 ]},
{"width":253,"height":209,
 "encoding":{"x":{"field":"x","type":"quantitative","scale":{"domain":[0,130],"nice":false,"zero":false},"axis":{"values":[0,2,4,6,8,10,12,14,16,18,20,22,24,26,28,30,32,34,36,38,40,42,44,46,48,50,52,54,56,58,60,62,64,66,68,70,72,74,76,78,80,82,84,86,88,90,92,94,96,98,100,102,104,106,108,110,112,114,116,118,120,122,124,126,128,130],"labelExpr":"datum.value % 20 == 0 ? (datum.value == 0 ? '[M]' : '+' + datum.value) : ''","labelOverlap":false,"labelFlush":false,"tickSize":3,"tickColor":"#555","domainColor":"#333","domainWidth":1.5,"labelFontSize":9.5,"labelColor":"#333","labelPadding":0,"grid":false,"title":"Δm/z [Da]","titleFontSize":12,"titleFontWeight":"bold","titleColor":"#111","titlePadding":2}}},
 "layer":[
  {"data":{"name":"vlight"},"mark":{"type":"rule","color":"#aaa","strokeWidth":0.8,"strokeDash":[1.5,1.5]},"encoding":{}},
  {"data":{"name":"vdash"},"mark":{"type":"rule","color":"#444","strokeWidth":0.8,"strokeDash":[2,1.5]},"encoding":{}},
  {"data":{"name":"vsolid"},"mark":{"type":"rule","color":"#555","strokeWidth":0.9},"encoding":{}},
  {"data":{"name":"bars"},"transform":[{"filter":"datum.p=='E'"}],"mark":{"type":"bar","size":1.5},"encoding":{"y":{"field":"v","type":"quantitative","scale":{"domain":[-1,1],"nice":false,"zero":false},"axis":null},"y2":{"datum":0},"color":{"field":"c","type":"nominal","scale":{"domain":["g","r","b"],"range":["#86c07a","#e3756e","#6060a8"]},"legend":null}}},
  {"data":{"values":[{"x":0}]},"mark":{"type":"rule","color":"#666","strokeWidth":2},"encoding":{"x2":{"datum":130},"y":{"datum":0}}},
  {"data":{"values":[{"x":6.2}]},"mark":{"type":"text","text":"E","fontSize":15,"fontWeight":"bold","align":"left","baseline":"middle","color":"#000"},"encoding":{"y":{"datum":0.837}}}
 ]},
{"width":253,"height":209,
 "encoding":{"x":{"field":"x","type":"quantitative","scale":{"domain":[0,130],"nice":false,"zero":false},"axis":{"values":[0,2,4,6,8,10,12,14,16,18,20,22,24,26,28,30,32,34,36,38,40,42,44,46,48,50,52,54,56,58,60,62,64,66,68,70,72,74,76,78,80,82,84,86,88,90,92,94,96,98,100,102,104,106,108,110,112,114,116,118,120,122,124,126,128,130],"labelExpr":"datum.value % 20 == 0 ? (datum.value == 0 ? '[M]' : '+' + datum.value) : ''","labelOverlap":false,"labelFlush":false,"tickSize":3,"tickColor":"#555","domainColor":"#333","domainWidth":1.5,"labelFontSize":9.5,"labelColor":"#333","labelPadding":0,"grid":false,"title":"Δm/z [Da]","titleFontSize":12,"titleFontWeight":"bold","titleColor":"#111","titlePadding":2}}},
 "layer":[
  {"data":{"name":"vlight"},"mark":{"type":"rule","color":"#aaa","strokeWidth":0.8,"strokeDash":[1.5,1.5]},"encoding":{}},
  {"data":{"name":"vdash"},"mark":{"type":"rule","color":"#444","strokeWidth":0.8,"strokeDash":[2,1.5]},"encoding":{}},
  {"data":{"name":"vsolid"},"mark":{"type":"rule","color":"#555","strokeWidth":0.9},"encoding":{}},
  {"data":{"name":"bars"},"transform":[{"filter":"datum.p=='F'"}],"mark":{"type":"bar","size":1.5},"encoding":{"y":{"field":"v","type":"quantitative","scale":{"domain":[-1,1],"nice":false,"zero":false},"axis":null},"y2":{"datum":0},"color":{"field":"c","type":"nominal","scale":{"domain":["g","r","b"],"range":["#86c07a","#e3756e","#6060a8"]},"legend":null}}},
  {"data":{"values":[{"x":0}]},"mark":{"type":"rule","color":"#666","strokeWidth":2},"encoding":{"x2":{"datum":130},"y":{"datum":0}}},
  {"data":{"values":[{"x":6.2}]},"mark":{"type":"text","text":"F","fontSize":15,"fontWeight":"bold","align":"left","baseline":"middle","color":"#000"},"encoding":{"y":{"datum":0.837}}}
 ]}
], "spacing": 12, "bounds": "flush"}
]
}
